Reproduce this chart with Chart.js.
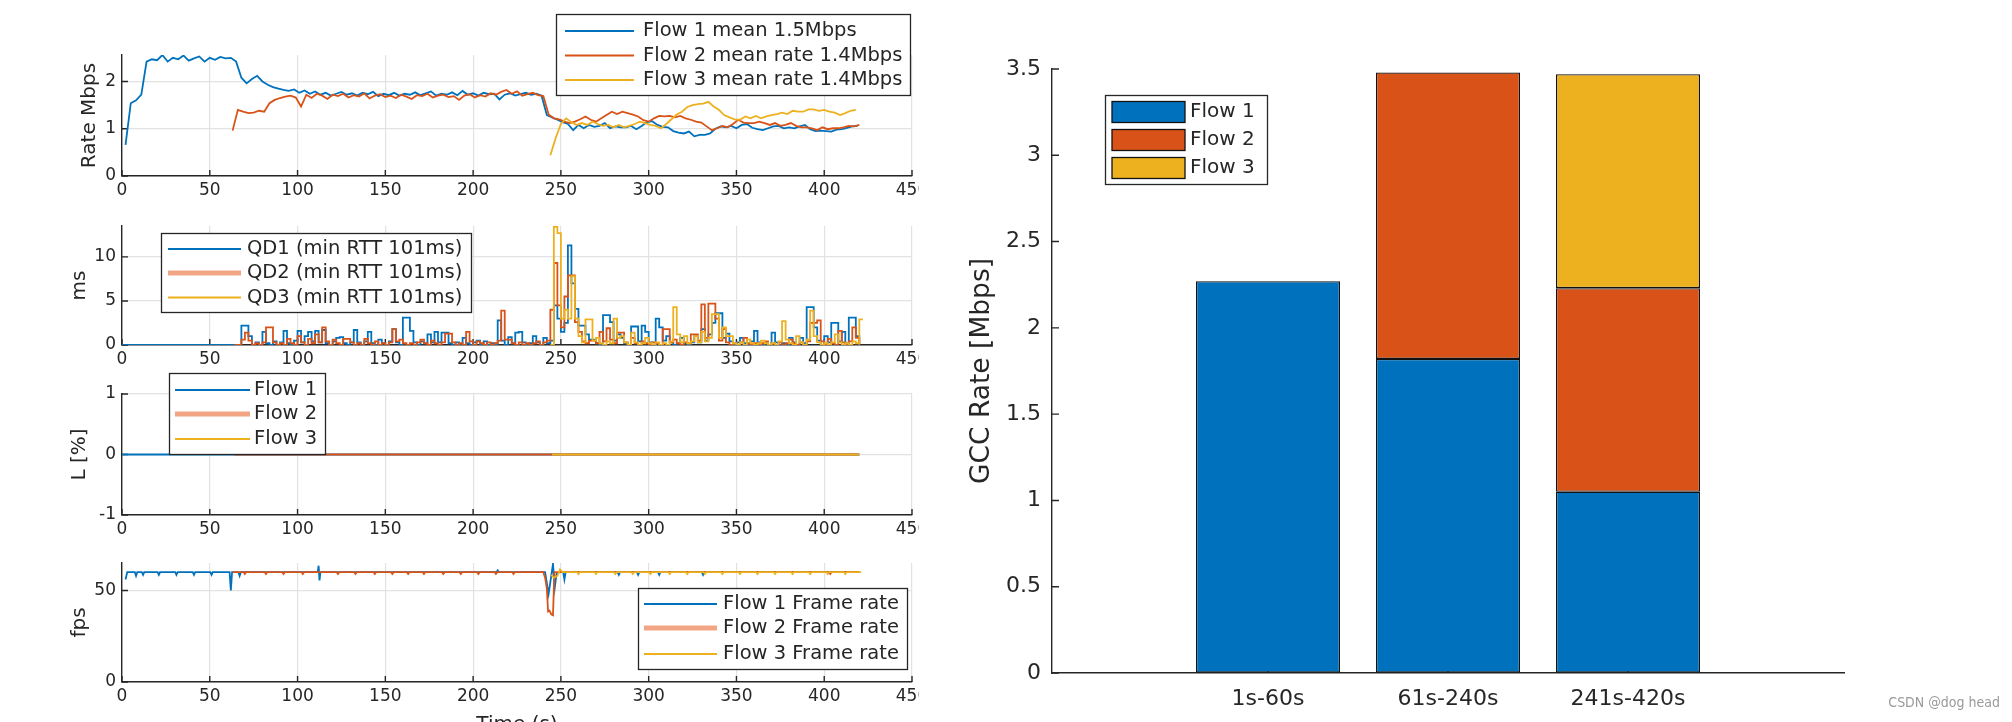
<!DOCTYPE html>
<html>
<head>
<meta charset="utf-8">
<script src="https://cdn.jsdelivr.net/npm/chart.js@4.4.1/dist/chart.umd.min.js"></script>
<style>
html, body { margin: 0; padding: 0; background: #fff; width: 2012px; height: 722px; overflow: hidden; }
#left { position: absolute; left: 0; top: 0; width: 919px; height: 722px; overflow: hidden; }
canvas { position: absolute; }
#mark { position: absolute; right: 12px; top: 694px; font: 14px "DejaVu Sans Condensed", "DejaVu Sans", sans-serif; color: #9a9a9a; }
</style>
</head>
<body>
<div id="left">
  <canvas id="rate" width="960" height="215" style="left:0;top:0"></canvas>
  <canvas id="qd" width="960" height="185" style="left:0;top:200px"></canvas>
  <canvas id="loss" width="960" height="195" style="left:0;top:360px"></canvas>
  <canvas id="fps" width="960" height="230" style="left:0;top:540px"></canvas>
</div>
<canvas id="gcc" width="1082" height="722" style="left:930px;top:0"></canvas>
<div id="mark">CSDN @dog head</div>

<script>
// ---- data ----
const timeTicks = [0, 50, 100, 150, 200, 250, 300, 350, 400, 450];
const rateTicks = [0, 1, 2];
const qdTicks = [0, 5, 10];
const lossTicks = [-1, 0, 1];
const fpsTicks = [0, 50];

const rateLabels = ['Flow 1 mean 1.5Mbps', 'Flow 2 mean rate 1.4Mbps', 'Flow 3 mean rate 1.4Mbps'];
const qdLabels = ['QD1 (min RTT 101ms)', 'QD2 (min RTT 101ms)', 'QD3 (min RTT 101ms)'];
const lossLabels = ['Flow 1', 'Flow 2', 'Flow 3'];
const fpsLabels = ['Flow 1 Frame rate', 'Flow 2 Frame rate', 'Flow 3 Frame rate'];

// rate (Mbps), one sample every 3 s
const rate1 = [0.66,1.54,1.60,1.72,2.42,2.47,2.45,2.56,2.42,2.50,
  2.47,2.55,2.44,2.49,2.53,2.42,2.50,2.46,2.52,2.49,
  2.50,2.42,2.08,1.96,2.05,2.12,2.00,1.93,1.88,1.85,
  1.82,1.80,1.83,1.76,1.81,1.74,1.79,1.72,1.76,1.70,
  1.74,1.78,1.72,1.75,1.70,1.76,1.73,1.78,1.69,1.74,
  1.71,1.76,1.70,1.74,1.72,1.77,1.71,1.75,1.79,1.70,
  1.74,1.72,1.77,1.71,1.80,1.72,1.75,1.70,1.76,1.73,
  1.74,1.62,1.72,1.75,1.70,1.73,1.76,1.72,1.74,1.70,
  1.29,1.24,1.19,1.14,1.10,0.97,1.08,1.01,1.08,1.04,
  1.06,1.12,1.01,1.05,1.03,1.03,1.06,0.99,1.06,1.14,
  1.16,1.08,1.04,1.03,0.95,0.92,0.90,0.94,0.84,0.87,
  0.87,0.90,1.00,1.05,1.03,1.06,1.01,1.08,1.10,1.02,
  0.99,0.97,1.01,1.05,1.06,1.01,1.03,1.01,1.05,1.08,
  0.99,0.95,0.96,0.95,0.94,0.98,0.99,1.02,1.05,1.06];
const rate2 = [0.96,1.40,1.36,1.33,1.34,1.38,1.36,1.54,1.61,1.65,
  1.68,1.70,1.66,1.47,1.72,1.65,1.74,1.70,1.63,1.72,
  1.69,1.74,1.66,1.71,1.68,1.75,1.64,1.70,1.73,1.67,
  1.70,1.65,1.72,1.68,1.63,1.71,1.69,1.74,1.66,1.70,
  1.72,1.67,1.69,1.61,1.70,1.73,1.66,1.71,1.68,1.75,
  1.72,1.78,1.82,1.74,1.79,1.70,1.73,1.76,1.71,1.69,
  1.30,1.22,1.20,1.15,1.12,1.15,1.20,1.26,1.19,1.15,
  1.22,1.29,1.36,1.31,1.36,1.33,1.30,1.26,1.18,1.15,
  1.22,1.27,1.26,1.27,1.24,1.27,1.22,1.19,1.15,1.13,
  1.05,0.97,1.01,1.06,1.03,1.10,1.19,1.13,1.12,1.12,
  1.15,1.12,1.08,1.12,1.06,1.08,1.12,1.06,1.03,1.03,
  1.01,0.97,1.03,0.99,1.01,1.01,1.03,1.06,1.05,1.08];
const rate3 = [0.44,0.80,1.10,1.22,1.14,1.08,1.12,1.08,1.15,1.10,
  1.06,1.08,1.03,1.08,1.03,1.06,1.10,1.15,1.12,1.08,
  1.06,1.01,1.10,1.20,1.30,1.36,1.46,1.50,1.52,1.53,
  1.57,1.47,1.40,1.29,1.24,1.20,1.19,1.26,1.22,1.27,
  1.22,1.26,1.29,1.31,1.34,1.31,1.38,1.36,1.36,1.41,
  1.41,1.38,1.40,1.36,1.34,1.29,1.33,1.38,1.40];

// queuing delay (ms), one sample every 2 s
const qd1 = [0,0,0,0,0,0,0,0,0,0,
  0,0,0,0,0,0,0,0,0,0,
  0,0,0,0,0,0,0,0,0,0,
  0,0,0,0,2.2,2.2,1.0,0,0.3,0,
  1.5,0.2,0,0.4,0,0.3,1.6,0.2,0,0.5,
  1.6,0.3,1.0,1.5,0.4,1.6,0.3,1.7,0.2,0,
  0.4,0.8,0.9,0.2,0,0.3,1.7,0.3,0,0.4,
  1.5,0.2,0,0.6,0.2,0,0.4,1.8,0.3,0,
  3.1,3.1,1.6,0.3,0,0.4,0.2,1.2,0.3,1.5,
  0.3,1.4,1.4,0.2,0,0.3,0,0.8,0.2,0,
  0.3,0.5,0,0.4,0,0.2,0,2.8,0.5,0,
  0.9,0.2,1.4,1.5,0.3,0,0.2,1.0,0.3,0,
  0.8,0.2,0.5,4.5,3.0,1.5,2.5,11.3,7.0,4.1,
  2.2,2.2,1.2,0.6,0.6,0.2,0,3.4,3.4,2.6,
  0.5,1.2,0.8,0.2,0,2.1,2.1,0.4,2.2,1.5,
  0.3,0,3.0,2.0,0.5,1.0,0.3,0,0.2,0.8,
  0.2,0,0.3,1.0,0.3,1.8,0.5,1.2,2.5,3.6,
  3.6,0.8,1.3,0.4,0,0.3,0.8,0.2,0,0.4,
  1.6,0.3,0,0.2,0,1.4,0.3,0,0.2,0,
  0.8,0.3,0,0.8,0.2,4.3,4.3,2.0,0.5,0,
  1.0,0.3,2.5,2.5,0.4,1.5,0.2,3.1,3.1,1.0,0];
const qd2 = [0,0,0.6,1.4,0.5,0,0.2,0,0.3,2.0,
  2.0,0.3,0,0.2,0,0.7,0.2,0,1.0,0.3,
  0,0.7,0.2,1.2,0.3,2.0,0.4,0,0.6,0.2,
  0,0.7,0.7,0.3,0,0.2,0,0.7,0.2,0,
  0.4,0,0.2,0,0.3,1.8,0.4,0.6,0.2,0,
  0.2,0,0.3,0.6,0.2,0,0.5,0.2,0,0.3,
  1.3,1.3,0.3,0,0.2,0,1.5,0.4,0,0.4,
  0.2,0,0.3,0,0.2,0.5,3.9,0.6,0.6,0.2,
  0,0.3,0,0.2,0,0.2,0.4,0,0.3,0.5,
  4.0,9.3,4.5,2.0,5.5,7.9,7.9,2.6,1.5,0.4,
  0.2,0.5,0.5,0.2,1.5,0.4,1.9,0.6,0.2,1.4,
  1.4,0.3,0,0.8,0.2,0,0.4,0.2,0,0.3,
  0.2,0,1.8,1.8,0.3,0.6,0.2,0,0.3,0.2,
  1.2,1.2,0.5,4.6,0.8,4.7,4.7,3.0,0.5,1.8,
  0.3,0,0.2,0,0.3,0.8,0.2,0,0.2,0,
  0.2,0.4,0,0.2,0,0.3,0,0.2,0.6,0.2,
  0,0.3,0,0.4,2.5,2.5,2.8,0.4,0,0.7,
  0.2,0,1.6,0.3,0,0.4,2.0,0.8,0];
const qd3 = [0,13.4,12.7,3.0,4.0,3.0,7.8,3.0,1.0,0.3,
  2.9,2.9,0.5,0.8,0.2,0,0.4,0.2,3.0,0.8,
  1.0,0.3,0,1.4,0.3,0,0.2,0.8,0.2,0,
  0.3,0,0.2,0,0.4,4.3,1.2,0.3,1.0,0.2,
  0.4,1.0,0.3,1.5,0.4,0.8,3.5,3.5,0.8,2.0,
  1.0,1.0,0.2,0,0.3,0,0.6,0.2,0,0.2,
  0.5,0.2,0,0.2,0,0.4,2.7,0.6,0.2,0,
  1.0,0.3,0,0.6,3.9,1.0,0.3,0,0.2,0,
  0.3,1.2,0.3,0,0.2,0,0.4,0.2,2.9,2.9];

// loss (%)
const lossT1 = [0, 420], lossV1 = [0, 0];
const lossT2 = [64, 420], lossV2 = [0, 0];
const lossT3 = [245, 420], lossV3 = [0, 0];

// frame rate (fps)
const fpsT1 = [2,3,7.3,8,8.7,11.3,12,12.7,20.3,21,21.7,30.3,31,31.7,40.3,41,41.7,50.3,51,51.7,
  61.3,62,62.7,66.3,67,67.7,111.5,112,112.5,113,213.3,214,214.7,
  241,243,245.5,246.5,247.5,249,251.3,252,252.7,282.3,283,283.7,293.3,294,294.7,
  305.3,306,306.7,330.3,331,331.7,420];
const fpsV1 = [56,60,60,58,60,60,58.5,60,60,58.5,60,60,58.5,60,60,58.5,60,60,58.5,60,
  60,50,60,60,58,60,60,63.5,55.5,60,60,61,60,
  60,48,64.5,51.5,59,60,60,56,60,60,58.5,60,60,58.5,60,
  60,58.5,60,60,58.5,60,60];
const fpsT2 = [63,69.3,70,70.7,81.3,82,82.7,91.3,92,92.7,102.3,103,103.7,122.3,123,123.7,
  132.3,133,133.7,143.3,144,144.7,153.3,154,154.7,162.3,163,163.7,171.3,172,172.7,
  182.3,183,183.7,192.3,193,193.7,202.3,203,203.7,212.3,213,213.7,222.3,223,223.7,
  240,241,242,242.7,243.5,244.5,245.5,246.3,402.7,403.4,404.1,420];
const fpsV2 = [60,60,59,60,60,59,60,60,59,60,60,59,60,60,59,60,
  60,59,60,60,59,60,60,59,60,60,59,60,60,59,60,
  60,59,60,60,59,60,60,59,60,60,59,60,60,59,60,
  60,57,51,38.5,39,37,36.5,60,60,59,60,60];
const fpsT3 = [244.5,246,248,249.5,251,259.3,260,260.7,269.3,270,270.7,280.3,281,281.7,
  290.3,291,291.7,300.3,301,301.7,311.3,312,312.7,321.3,322,322.7,331.3,332,332.7,
  341.3,342,342.7,351.3,352,352.7,361.3,362,362.7,371.3,372,372.7,381.3,382,382.7,
  391.3,392,392.7,401.3,402,402.7,411.3,412,412.7,421];
const fpsV3 = [58.5,57,58,61.5,60,60,59,60,60,59,60,60,59,60,
  60,59,60,60,59,60,60,59,60,60,59,60,60,59,60,
  60,59,60,60,59,60,60,59,60,60,59,60,60,59,60,
  60,59,60,60,59,60,60,59,60,60];

// GCC rate per period (Mbps), stacked
const periods = ['1s-60s', '61s-240s', '241s-420s'];
const barLabels = ['Flow 1', 'Flow 2', 'Flow 3'];
const gccFlow1 = [2.27, 1.82, 1.05];
const gccFlow2 = [0, 1.66, 1.18];
const gccFlow3 = [0, 0, 1.24];

// ---- styling ----
const C1 = '#0072BD', C2 = '#D95319', C3 = '#EDB120';
const AX = '#262626', GRID = '#e2e2e2';
Chart.defaults.font.family = "'DejaVu Sans', sans-serif";

const stepSeries = (t0, dt, vals) => vals.map((v, i) => ({x: t0 + i * dt, y: v}));
const pairSeries = (ts, vs) => ts.map((t, i) => ({x: t, y: vs[i]}));

// legend drawn as a MATLAB-style framed box
const boxLegend = {
  id: 'boxLegend',
  afterDraw(chart, args, o) {
    if (!o.labels) return;
    const ctx = chart.ctx;
    ctx.save();
    ctx.fillStyle = '#fff';
    ctx.fillRect(o.x, o.y, o.w, o.h);
    ctx.strokeStyle = AX;
    ctx.lineWidth = 1.3;
    ctx.strokeRect(o.x + 0.5, o.y + 0.5, o.w, o.h);
    ctx.font = o.font;
    ctx.textBaseline = 'middle';
    o.labels.forEach((lab, i) => {
      const y = o.rowY[i];
      if (o.patch) {
        ctx.fillStyle = o.colors[i];
        ctx.fillRect(o.lx1, y - o.ph / 2, o.lx2 - o.lx1, o.ph);
        ctx.strokeStyle = '#111';
        ctx.lineWidth = 1.3;
        ctx.strokeRect(o.lx1, y - o.ph / 2, o.lx2 - o.lx1, o.ph);
      } else {
        ctx.strokeStyle = o.colors[i];
        ctx.lineWidth = o.widths[i];
        ctx.beginPath();
        ctx.moveTo(o.lx1, y);
        ctx.lineTo(o.lx2, y);
        ctx.stroke();
      }
      ctx.fillStyle = AX;
      ctx.fillText(lab, o.tx, y);
    });
    ctx.restore();
  }
};

// inward tick marks
const inTicks = {
  id: 'inTicks',
  beforeDatasetsDraw(chart, args, o) {
    const {ctx, chartArea: a} = chart;
    const sx = chart.scales.x, sy = chart.scales.y;
    ctx.save();
    ctx.strokeStyle = AX;
    ctx.lineWidth = 1.4;
    ctx.beginPath();
    sx.ticks.forEach(t => {
      const p = sx.getPixelForValue(t.value);
      ctx.moveTo(p, a.bottom);
      ctx.lineTo(p, a.bottom - o.len);
    });
    sy.ticks.forEach(t => {
      const p = sy.getPixelForValue(t.value);
      ctx.moveTo(a.left, p);
      ctx.lineTo(a.left + o.len, p);
    });
    ctx.stroke();
    ctx.restore();
  }
};

function lineDs(data, color, order, stepped) {
  return {data, borderColor: color, borderWidth: 1.8, pointRadius: 0, tension: 0,
          fill: false, order, stepped: !!stepped};
}

function leftChart(id, datasets, o) {
  const tickFont = {size: 17};
  const titleFont = {size: 20};
  return new Chart(document.getElementById(id), {
    type: 'line',
    data: {datasets},
    plugins: [boxLegend, inTicks],
    options: {
      responsive: false, animation: false, events: [],
      layout: {padding: {left: 0, right: 48, top: o.padTop, bottom: 0}},
      plugins: {legend: {display: false}, tooltip: {enabled: false},
                boxLegend: o.legend, inTicks: {len: 6}},
      scales: {
        x: {
          type: 'linear', min: 0, max: 450,
          afterBuildTicks: s => { s.ticks = timeTicks.map(v => ({value: v})); },
          afterFit: s => { s.height = o.xHeight; },
          grid: {color: GRID, lineWidth: 1.2, drawTicks: false},
          border: {color: AX, width: 1.4},
          ticks: {color: AX, font: tickFont, padding: 4, maxRotation: 0, autoSkip: false,
                  callback: v => String(v)},
          title: o.xTitle ? {display: true, text: o.xTitle, color: AX, font: titleFont,
                             padding: {top: 0, bottom: 33}} : {display: false}
        },
        y: {
          type: 'linear', min: o.yMin, max: o.yMax,
          afterBuildTicks: s => { s.ticks = o.yTicks.map(v => ({value: v})); },
          afterFit: s => { s.width = 122; },
          grid: {color: GRID, lineWidth: 1.2, drawTicks: false},
          border: {color: AX, width: 1.4},
          ticks: {color: AX, font: tickFont, padding: 6, callback: v => String(v)},
          title: {display: true, text: o.yTitle, color: AX, font: titleFont,
                  padding: {top: o.yTitlePad, bottom: 0}}
        }
      }
    }
  });
}

const legFont = "19.5px 'DejaVu Sans'";
const thickOrange = '#f2a585';

leftChart('rate', [
  lineDs(stepSeries(2, 3, rate1), C1, 3),
  lineDs(stepSeries(63, 3, rate2), C2, 2),
  lineDs(stepSeries(244, 3, rate3), C3, 1)
], {padTop: 55, xHeight: 39, yMin: 0, yMax: 2.56, yTicks: rateTicks, yTitle: 'Rate Mbps', yTitlePad: 78,
    legend: {x: 556, y: 14, w: 354, h: 81, lx1: 565, lx2: 634, tx: 643, rowY: [31, 55.5, 80],
             labels: rateLabels, colors: [C1, C2, C3], widths: [2, 2, 2], font: legFont}});

leftChart('qd', [
  lineDs(stepSeries(0, 2, qd1), C1, 3, true),
  lineDs(stepSeries(64, 2, qd2), C2, 2, true),
  lineDs(stepSeries(244, 2, qd3), C3, 1, true)
], {padTop: 26, xHeight: 40, yMin: 0, yMax: 13.5, yTicks: qdTicks, yTitle: 'ms', yTitlePad: 68,
    legend: {x: 161, y: 33, w: 310, h: 79, lx1: 168, lx2: 241, tx: 247, rowY: [49, 73, 97.5],
             labels: qdLabels, colors: [C1, thickOrange, C3], widths: [2.2, 5, 2.2], font: legFont}});

leftChart('loss', [
  lineDs(pairSeries(lossT1, lossV1), C1, 3),
  lineDs(pairSeries(lossT2, lossV2), C2, 2),
  lineDs(pairSeries(lossT3, lossV3), C3, 1)
], {padTop: 34, xHeight: 40, yMin: -1, yMax: 1, yTicks: lossTicks, yTitle: 'L [%]', yTitlePad: 68,
    legend: {x: 169, y: 13, w: 156, h: 81, lx1: 175, lx2: 250, tx: 254, rowY: [30, 54, 79],
             labels: lossLabels, colors: [C1, thickOrange, C3], widths: [2.2, 5, 2.2], font: legFont}});

leftChart('fps', [
  lineDs(pairSeries(fpsT1, fpsV1), C1, 3),
  lineDs(pairSeries(fpsT2, fpsV2), C2, 2),
  lineDs(pairSeries(fpsT3, fpsV3), C3, 1)
], {padTop: 23, xHeight: 88, xTitle: 'Time (s)', yMin: 0, yMax: 65, yTicks: fpsTicks, yTitle: 'fps', yTitlePad: 68,
    legend: {x: 638, y: 48, w: 269, h: 81, lx1: 644, lx2: 717, tx: 723, rowY: [64, 88, 114],
             labels: fpsLabels, colors: [C1, thickOrange, C3], widths: [2.2, 5, 2.2], font: legFont}});

// ---- stacked bar chart ----
const gccVals = [gccFlow1, gccFlow2, gccFlow3];
const barColors = [C1, C2, C3];
new Chart(document.getElementById('gcc'), {
  type: 'bar',
  data: {
    datasets: gccVals.map((vals, k) => ({
      label: barLabels[k],
      data: vals.map((v, i) => ({x: i + 1, y: v === 0 ? null : v})),
      backgroundColor: barColors[k],
      borderColor: '#111',
      borderWidth: 1.3,
      borderSkipped: false,
      barPercentage: 0.8,
      categoryPercentage: 1
    }))
  },
  plugins: [boxLegend, inTicks],
  options: {
    responsive: false, animation: false, events: [],
    layout: {padding: {left: 0, right: 168, top: 69, bottom: 0}},
    plugins: {
      legend: {display: false}, tooltip: {enabled: false},
      inTicks: {len: 7},
      boxLegend: {x: 175, y: 95, w: 162, h: 89, patch: true, lx1: 182, lx2: 255, ph: 21, tx: 260,
                  rowY: [112, 140, 168], labels: barLabels, colors: barColors, font: "20px 'DejaVu Sans'"}
    },
    scales: {
      x: {
        type: 'linear', min: -0.2, max: 4.2, stacked: true, offset: false,
        afterBuildTicks: s => { s.ticks = periods.map((p, i) => ({value: i + 1})); },
        afterFit: s => { s.height = 49; },
        grid: {drawOnChartArea: false, drawTicks: false},
        border: {color: AX, width: 1.4},
        ticks: {color: AX, font: {size: 22}, padding: 13, maxRotation: 0, autoSkip: false,
                callback: v => periods[v - 1]}
      },
      y: {
        type: 'linear', min: 0, max: 3.5, stacked: true,
        afterFit: s => { s.width = 122; },
        grid: {drawOnChartArea: false, drawTicks: false},
        border: {color: AX, width: 1.4},
        ticks: {stepSize: 0.5, color: AX, font: {size: 22}, padding: 11, callback: v => String(v)},
        title: {display: true, text: 'GCC Rate [Mbps]', color: AX, font: {size: 26.5},
                padding: {top: 36, bottom: 0}}
      }
    }
  }
});
</script>
</body>
</html>
